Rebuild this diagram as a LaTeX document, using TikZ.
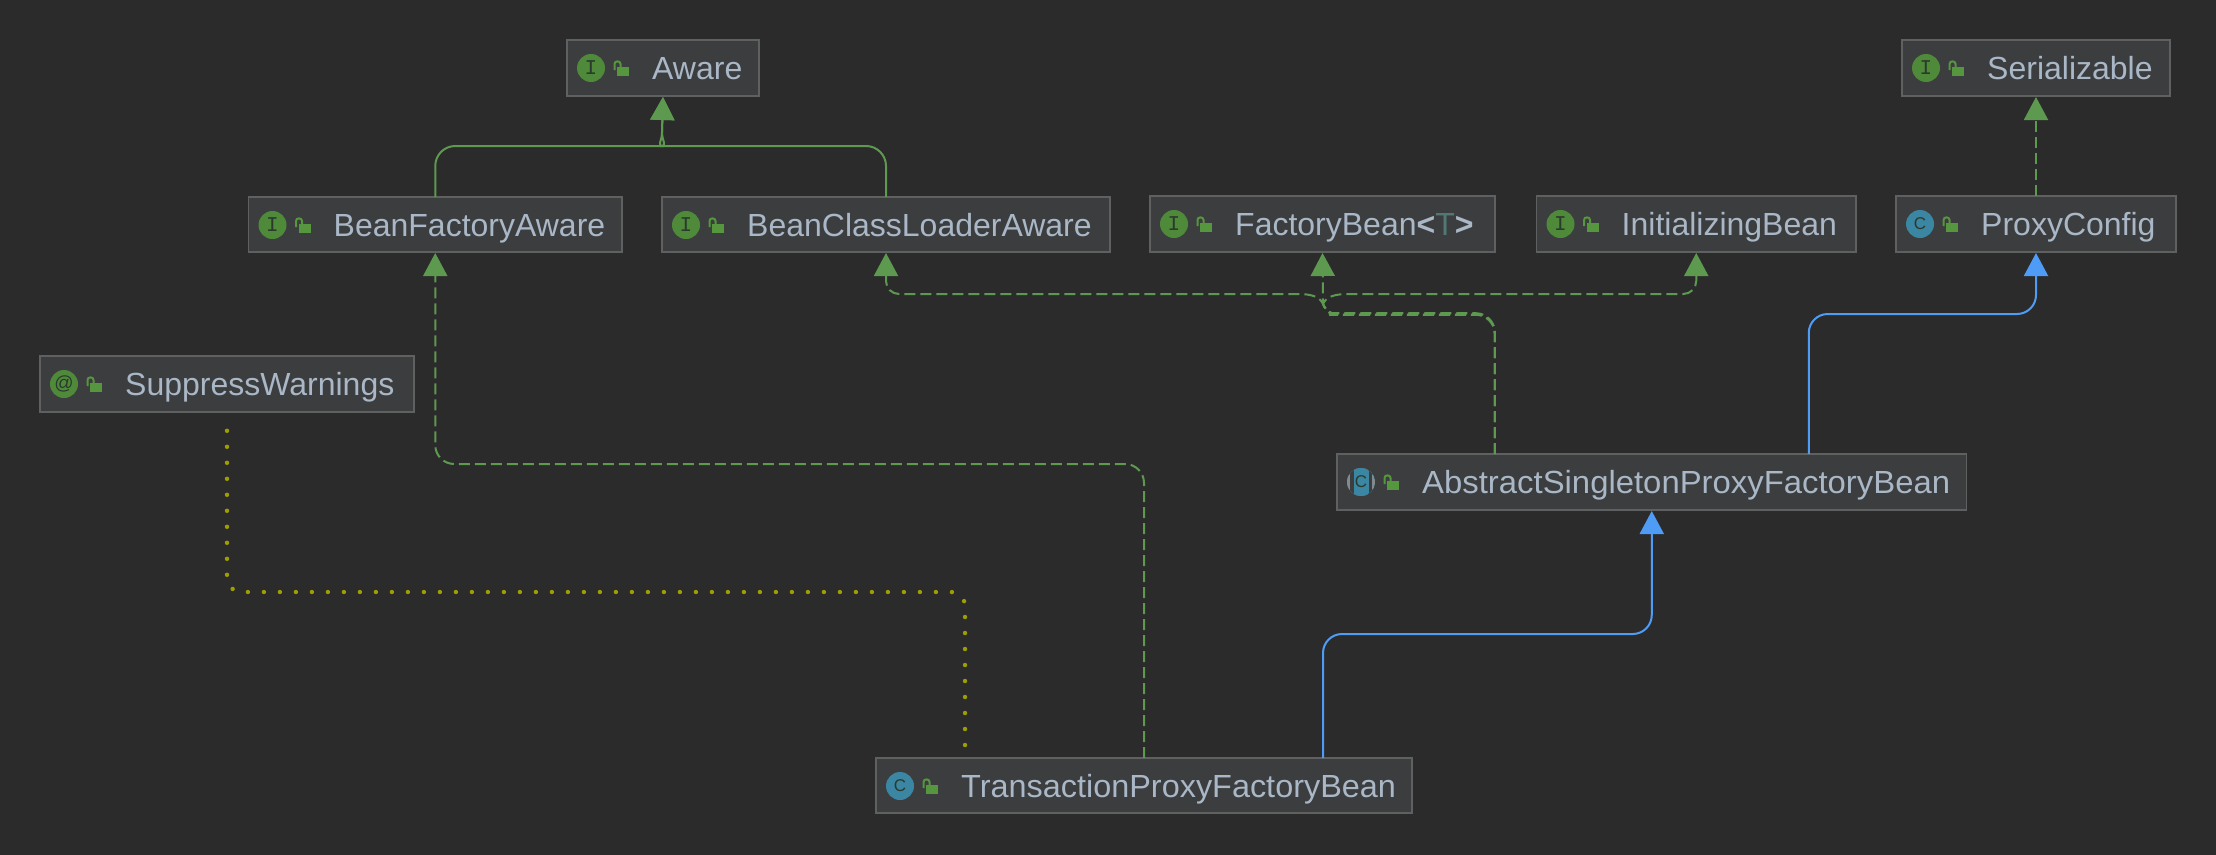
\documentclass[tikz,border=0pt]{standalone}
\usepackage{fontspec}
\setmainfont{Liberation Sans}
\setmonofont{Liberation Mono}
\usetikzlibrary{arrows.meta,calc}
\definecolor{bgc}{HTML}{2B2B2B}
\definecolor{boxc}{HTML}{3C3D3E}
\definecolor{boxl}{HTML}{5F6060}
\definecolor{txtc}{HTML}{A9B7C6}
\definecolor{grn}{HTML}{5E9950}
\definecolor{blu}{HTML}{4F9CF7}
\definecolor{yel}{HTML}{9E9E00}
\definecolor{icog}{HTML}{4F8A3A}
\definecolor{icob}{HTML}{3B86A3}
\definecolor{icod}{HTML}{2A3A2C}
\definecolor{gryr}{HTML}{85898B}
\definecolor{lockc}{HTML}{55963F}
\definecolor{tealT}{HTML}{507874}
\newcommand{\icoC}{{\rmfamily\fontsize{17}{17}\selectfont C}}
\tikzset{
  x=1pt,y=-1pt,
  umlbox/.style={draw=boxl,fill=boxc,line width=1.4pt,inner sep=0pt,outer sep=0pt,rectangle},
  lbl/.style={anchor=base west,text=txtc,inner sep=0pt,font=\fontsize{32}{32}\selectfont},
  edgebase/.style={line width=2pt,shorten >=1pt},
  ext/.style={edgebase,draw=grn,-{Triangle[width=24pt,length=23pt,fill=grn]}},
  impl/.style={ext,dash pattern=on 11pt off 5pt},
  blueext/.style={edgebase,draw=blu,-{Triangle[width=24pt,length=23pt,fill=blu]}},
  dots/.style={draw=yel,line width=4.4pt,line cap=round,dash pattern=on 0pt off 16pt,rounded corners=14pt},
  ico/.style={circle,fill=#1,inner sep=0pt,minimum size=28pt,text=icod,font=\fontsize{21}{21}\selectfont\ttfamily},
}
% name, x0, y0, x1, y1, icon letter, icon colour, text
\newcommand{\umlnode}[8]{%
  \node[umlbox,minimum width=#4pt-#2pt,minimum height=#5pt-#3pt] (#1) at ({(#2+#4)/2},{(#3+#5)/2}) {};
  \node[ico=#7] (#1i) at (#2+24,#3+28) {#6};
  \fill[lockc] (#2+50,#3+27) rectangle (#2+62,#3+36);
  \draw[lockc,line width=2pt] (#2+47.5,#3+30) -- (#2+47.5,#3+24) .. controls (#2+47.5,#3+20.5) and (#2+53.5,#3+20.5) .. (#2+53.5,#3+24) -- (#2+53.5,#3+27);
  \node[lbl] (#1t) at (#2+85,#3+39) {#8};
}
\begin{document}
\begin{tikzpicture}
\useasboundingbox (0,0) rectangle (2216,854);
\fill[bgc] (-5,-5) rectangle (2221,859);
\umlnode{aware}{567}{40}{759}{96}{I}{icog}{Aware}
\umlnode{bfa}{248.5}{197}{622}{252}{I}{icog}{BeanFactoryAware}
\umlnode{bcla}{662}{197}{1110}{252}{I}{icog}{BeanClassLoaderAware}
\umlnode{fb}{1150}{196}{1495}{252}{I}{icog}{FactoryBean{\bfseries<}{\color{tealT}T}{\bfseries>}}
\umlnode{ib}{1536.5}{196}{1856}{252}{I}{icog}{InitializingBean}
\umlnode{pc}{1896}{196}{2176}{252}{\icoC}{icob}{ProxyConfig}
\umlnode{ser}{1902}{40}{2170}{96}{I}{icog}{Serializable}
\umlnode{sw}{40}{356}{414}{412}{{\rmfamily\fontsize{19}{19}\selectfont @}}{icog}{SuppressWarnings}
\umlnode{aspfb}{1337}{454}{1966.5}{510}{}{icob}{\scalebox{1.027}[1]{AbstractSingletonProxyFactoryBean}}
\umlnode{tpfb}{876}{758}{1412}{813}{\icoC}{icob}{\scalebox{1.013}[1]{TransactionProxyFactoryBean}}
% abstract-class icon: grey parentheses round a blue band
\begin{scope}
  \clip (aspfbi) circle[radius=14pt];
  \fill[gryr] (aspfbi) circle[radius=14pt];
  \fill[boxc] ($(aspfbi)+(-11,-15)$) rectangle ($(aspfbi)+(11,15)$);
  \fill[icob] ($(aspfbi)+(-7.5,-15)$) rectangle ($(aspfbi)+(7.5,15)$);
\end{scope}
\node[text=icod,inner sep=0pt] (aspfbc) at (aspfbi) {\icoC};
% solid extends
\draw[ext] [rounded corners=20pt] (bfa.north) |- (644,146) [sharp corners] .. controls (656,146) and (662,142) .. (662,132) -- (aware.south);
\draw[ext] [rounded corners=20pt] (bcla.north) |- (680,146) [sharp corners] .. controls (668,146) and (662,142) .. (662,132) -- (aware.south);
% dashed implements
\draw[impl,rounded corners=19pt] (tpfb.north) |- (bfa.south |- 0,464) -- (bfa.south);
\draw[impl] [rounded corners=19pt] ($(aspfb.north)+(-157,0)$) |- (1350,313.2) [sharp corners] .. controls (1334,313.2) and (1326,312) .. (1323,304) -- (fb.south);
\draw[impl] [rounded corners=19pt] ($(aspfb.north)+(-157,0)$) |- (1350,314.8) [sharp corners] .. controls (1334,314.8) and (1326,312) .. (1323,304) .. controls (1320,297) and (1312,294) .. (1298,294) -- (1290,294) [rounded corners=13pt] -| (bcla.south);
\draw[impl] [rounded corners=19pt] ($(aspfb.north)+(-157,0)$) |- (1350,314) [sharp corners] .. controls (1334,314) and (1326,312) .. (1323,304) .. controls (1326,297) and (1334,294) .. (1348,294) -- (1356,294) [rounded corners=13pt] -| (ib.south);
\draw[impl] (pc.north) -- (ser.south);
% blue extends
\draw[blueext,rounded corners=19pt] ($(aspfb.north)+(157,0)$) |- (pc.south |- 0,314) -- (pc.south);
\draw[blueext,rounded corners=19pt] ($(tpfb.north)+(179,0)$) |- (aspfb.south |- 0,634) -- (aspfb.south);
% annotation dots
\draw[dots] ($(tpfb.north)+(-179,-13)$) |- (sw.south |- 0,592) -- ($(sw.south)+(0,16)$);
\end{tikzpicture}
\end{document}
